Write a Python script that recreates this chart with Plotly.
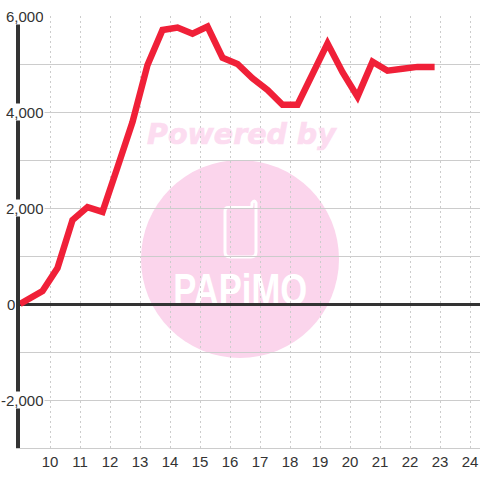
import plotly.graph_objects as go

hours = [9.0, 9.25, 9.75, 10.25, 10.75, 11.25, 11.75, 12.25, 12.75, 13.25, 13.75, 14.25, 14.75, 15.25, 15.75,
         16.25, 16.75, 17.25, 17.75, 18.25, 18.75, 19.25, 19.75, 20.25, 20.75, 21.25, 21.75, 22.25, 22.82]
values = [0, 90, 270, 750, 1750, 2020, 1920, 2850, 3790, 4980, 5710, 5760, 5630, 5780, 5130,
          5000, 4700, 4460, 4150, 4150, 4830, 5430, 4830, 4320, 5050, 4860, 4900, 4940, 4940]
x_ticks = list(range(10, 25))
y_ticks = [-2000, 0, 2000, 4000, 6000]
y_grid = list(range(-3000, 7000, 1000))

W, H, L, T, R, B = 480, 480, 20, 16, 480, 448
PINK = "#fbd5ec"
PINK_TEXT = "#fcdcf0"
GRID = "#cccccc"
DARK = "#333333"


def px(x):
    return (x - L) / (R - L)


def py(y):
    return (B - y) / (B - T)


fig = go.Figure(go.Scatter(x=hours, y=values, mode="lines", line=dict(color="#f02038", width=6.5), cliponaxis=False,
                           hoverinfo="skip", showlegend=False))

phone = (f"M {px(228)} {py(207.5)} L {px(250)} {py(207.5)} Q {px(252)} {py(207.5)} {px(252)} {py(205)} "
         f"L {px(252)} {py(203)} Q {px(254.5)} {py(199)} {px(256)} {py(203)} L {px(256)} {py(252)} "
         f"Q {px(256)} {py(257)} {px(251)} {py(257)} L {px(230)} {py(257)} Q {px(225)} {py(257)} {px(225)} {py(252)} "
         f"L {px(225)} {py(211)} Q {px(225)} {py(207.5)} {px(228)} {py(207.5)} Z")

shapes = [
    dict(type="circle", xref="paper", yref="paper", x0=px(141), x1=px(339), y0=py(358), y1=py(160), layer="below",
         fillcolor=PINK, line=dict(width=0)),
    dict(type="path", xref="paper", yref="paper", path=phone, layer="below", line=dict(color="white", width=3),
         fillcolor="rgba(0,0,0,0)"),
]

annotations = []
for t in y_ticks:
    annotations.append(dict(xref="paper", yref="y", x=px(16 if t == 0 else 45), y=t, xanchor="right", yanchor="middle",
                            showarrow=False, text=f"{t:,}", font=dict(family="Liberation Sans", size=15, color=DARK),
                            bgcolor="white" if t else "rgba(0,0,0,0)", borderpad=0, height=16))
annotations.append(dict(xref="paper", yref="paper", x=px(242), y=py(134), xanchor="center", yanchor="middle",
                        showarrow=False, text="<b><i>Powered by</i></b>",
                        font=dict(family="DejaVu Sans", size=28.5, color=PINK_TEXT)))
annotations.append(dict(xref="paper", yref="paper", x=px(240), y=py(289), xanchor="center", yanchor="middle",
                        showarrow=False, text="<b>PAPiMO</b>",
                        font=dict(family="Liberation Sans", size=44, color="white")))

fig.update_layout(
    width=W, height=H, autosize=False,
    margin=dict(l=L, r=W - R, t=T, b=H - B, pad=0),
    paper_bgcolor="white", plot_bgcolor="rgba(0,0,0,0)",
    shapes=shapes, annotations=annotations,
    font=dict(family="Liberation Sans", size=15, color=DARK),
    xaxis=dict(range=[9, 24.333], tickmode="array", tickvals=x_ticks, ticktext=[str(v) for v in x_ticks],
               showgrid=True, gridcolor=GRID, griddash="2px,3px", gridwidth=1, zeroline=False,
               showline=True, linecolor=GRID, linewidth=1, ticks="", ticklen=0,
               tickfont=dict(family="Liberation Sans", size=15, color=DARK)),
    yaxis=dict(range=[-3000, 6000], tickmode="array", tickvals=y_grid, showticklabels=False,
               showgrid=True, gridcolor=GRID, gridwidth=1, zeroline=True, zerolinecolor=DARK, zerolinewidth=3,
               showline=True, linecolor=DARK, linewidth=4, ticks="", layer="below traces"),
)
post = """
document.documentElement.style.margin='0';
document.body.style.margin='0';
document.body.style.overflow='hidden';
var s=document.createElement('style');
s.textContent='.js-line{stroke-linejoin:miter !important;stroke-miterlimit:4;}';
document.head.appendChild(s);
var low=document.querySelector('.layer-below .shapelayer');
document.querySelectorAll('.annotation').forEach(function(a){
  var txt=a.textContent;
  var t=a.querySelector('text');
  if(txt.indexOf('PAPiMO')>=0){
    t.setAttribute('textLength','134');
    t.setAttribute('lengthAdjust','spacingAndGlyphs');
  }
  if(txt.indexOf('Powered')>=0){
    t.style.stroke='#fcdcf0';
    t.style.strokeWidth='0.7px';
  }
  if((txt.indexOf('PAPiMO')>=0||txt.indexOf('Powered')>=0)&&low){low.appendChild(a);}
});
"""
fig.write_html("out.html", post_script=post, config=dict(displayModeBar=False, staticPlot=True))
